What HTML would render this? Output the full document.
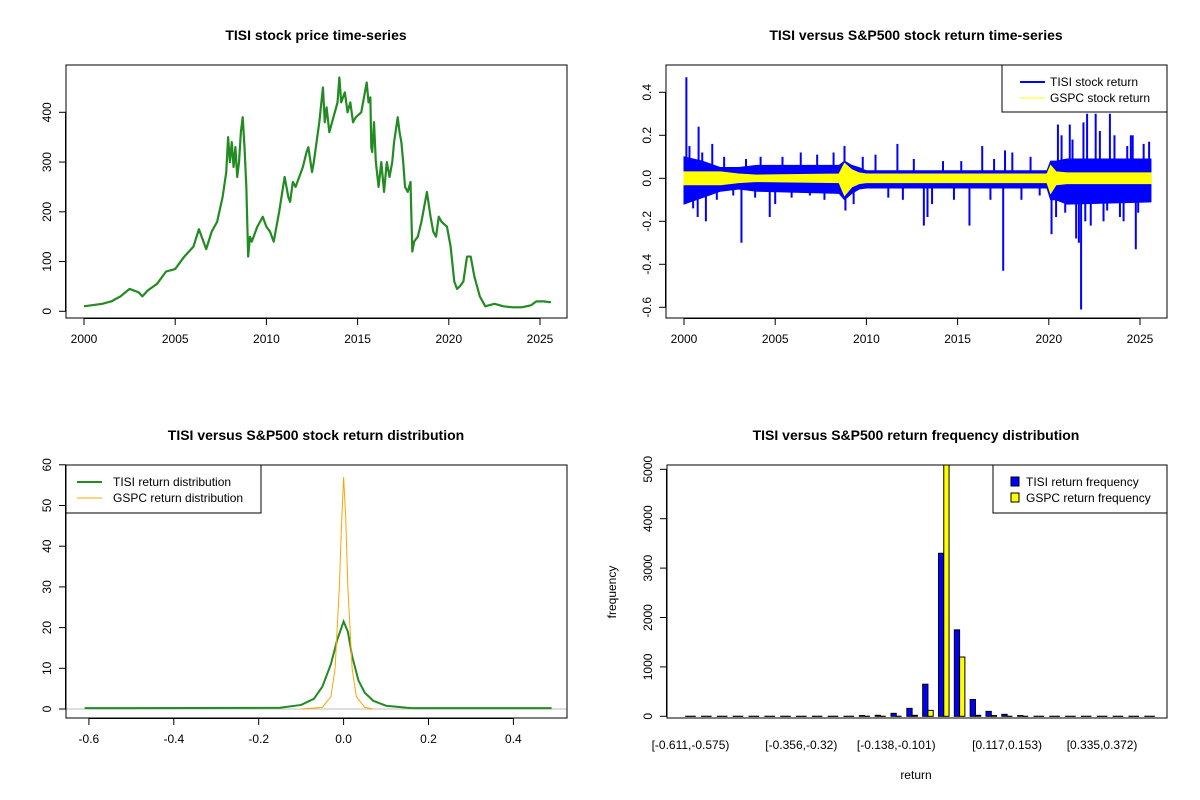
<!DOCTYPE html>
<html><head><meta charset="utf-8">
<style>
html,body{margin:0;padding:0;background:#fff;}
svg{display:block;font-family:"Liberation Sans",Arial,sans-serif;}
</style></head>
<body>
<svg id="c" width="1200" height="800" viewBox="0 0 1200 800" xmlns="http://www.w3.org/2000/svg"></svg>
<script>
// ---- Data ----
const priceYears = [2000,2001,2001.5,2002,2002.5,2003,2003.2,2003.5,2004,2004.5,2005,2005.5,2006,2006.3,2006.7,2007,2007.3,2007.6,2007.8,2007.9,2008.0,2008.1,2008.2,2008.3,2008.4,2008.5,2008.6,2008.7,2008.8,2008.9,2009.0,2009.1,2009.2,2009.5,2009.8,2010.0,2010.2,2010.4,2010.7,2011.0,2011.2,2011.3,2011.45,2011.6,2012,2012.2,2012.3,2012.5,2012.6,2012.9,2013.1,2013.2,2013.3,2013.45,2013.6,2013.75,2013.9,2014.0,2014.1,2014.3,2014.45,2014.6,2014.75,2014.9,2015.2,2015.5,2015.6,2015.7,2015.75,2015.8,2015.9,2016.0,2016.15,2016.3,2016.45,2016.6,2016.75,2016.9,2017.0,2017.2,2017.3,2017.4,2017.5,2017.6,2017.75,2017.9,2018.0,2018.1,2018.3,2018.5,2018.6,2018.8,2019.0,2019.15,2019.3,2019.45,2019.6,2019.9,2020.1,2020.3,2020.45,2020.6,2020.8,2021.0,2021.2,2021.4,2021.7,2022.0,2022.5,2023,2023.5,2024,2024.5,2024.8,2025.2,2025.6];
const priceValues = [10,15,20,30,45,38,30,42,55,80,85,110,130,165,125,160,180,230,280,350,300,340,290,330,270,300,360,390,330,250,110,150,140,170,190,170,160,140,200,270,230,220,260,250,290,320,330,280,300,380,450,380,410,360,380,400,420,470,420,440,400,420,380,390,400,460,420,430,330,320,380,300,250,300,240,300,270,300,340,390,360,340,300,250,240,260,120,140,150,180,200,240,190,160,150,190,180,170,130,60,45,50,60,110,110,70,30,10,15,10,8,8,12,20,20,18];
const priceTicks = [0,100,200,300,400];
const yearTicks = [2000,2005,2010,2015,2020,2025];

const bandYears = [2000,2001,2002,2003,2004,2008.5,2008.8,2009.2,2009.6,2010,2019.9,2020.1,2020.4,2021,2025.6];
const tisiUpper = [0.10,0.08,0.05,0.05,0.06,0.06,0.08,0.06,0.05,0.035,0.035,0.08,0.08,0.09,0.09];
const tisiLower = [-0.12,-0.09,-0.06,-0.05,-0.06,-0.07,-0.10,-0.07,-0.05,-0.045,-0.045,-0.10,-0.10,-0.12,-0.11];
const gspcUpper = [0.03,0.03,0.03,0.02,0.015,0.02,0.07,0.04,0.025,0.02,0.02,0.06,0.03,0.025,0.025];
const gspcLower = [-0.03,-0.03,-0.03,-0.02,-0.015,-0.02,-0.08,-0.04,-0.025,-0.02,-0.02,-0.07,-0.03,-0.025,-0.025];
const spikeYears = [2000.13,2000.8,2001.2,2000.75,2001.55,2003.15,2004.7,2008.8,2008.85,2011.7,2013.15,2013.35,2016.35,2015.65,2017.5,2017.6,2020.15,2020.5,2020.4,2021.15,2021.5,2021.77,2022.1,2021.65,2022.57,2023.35,2024.6,2024.77,2025.5,2024.1,
 2000.3,2000.5,2001.0,2001.8,2002.2,2002.7,2003.4,2003.9,2004.2,2005.0,2005.4,2005.9,2006.4,2006.9,2007.3,2007.7,2008.2,2009.3,2009.8,2010.5,2011.2,2012.0,2012.6,2013.6,2014.2,2014.8,2015.2,2016.8,2017.0,2018.0,2018.5,2019.0,2019.5,2020.7,2020.9,2021.3,2022.3,2022.8,2023.0,2023.6,2023.9,2024.3,2024.9,2025.2,2021.9,2022.0,2023.2,2024.5];
const spikeValues = [0.47,0.24,-0.2,-0.18,0.16,-0.3,-0.18,0.15,-0.15,0.16,-0.22,-0.18,0.15,-0.22,-0.43,0.13,-0.26,0.25,-0.18,0.25,-0.28,-0.61,0.3,-0.3,0.3,0.3,0.2,-0.33,0.17,-0.2,
 0.15,-0.14,0.12,-0.1,0.1,-0.08,0.09,-0.09,0.1,-0.12,0.1,-0.09,0.12,-0.08,0.11,-0.1,0.12,-0.12,0.1,0.11,-0.09,-0.1,0.09,-0.12,0.08,-0.1,0.08,-0.1,0.09,0.12,-0.1,0.1,-0.08,0.2,-0.16,0.18,-0.22,0.22,-0.2,0.2,-0.18,0.15,-0.16,0.16,0.26,-0.2,-0.15,0.2];
const retTicks = [-0.6,-0.4,-0.2,0.0,0.2,0.4];

const tisiDensX = [-0.61,-0.15,-0.1,-0.07,-0.05,-0.03,-0.015,0,0.01,0.02,0.035,0.05,0.07,0.1,0.15,0.165,0.49];
const tisiDensY = [0.2,0.3,1,2.5,5.5,11,17,21.5,19,13,7,4,2,0.8,0.3,0.2,0.2];
const gspcDensX = [-0.1,-0.05,-0.03,-0.02,-0.01,-0.005,0,0.005,0.01,0.02,0.03,0.05,0.07];
const gspcDensY = [0,0.4,3,10,30,45,57,47,30,10,3,0.4,0];
const densXTicks = [-0.6,-0.4,-0.2,0.0,0.2,0.4];
const densYTicks = [0,10,20,30,40,50,60];

const tisiFreq = [0,0,0,0,0,0,0,0,0,0,0,15,20,60,160,650,3300,1750,340,100,40,15,0,0,0,0,0,0,0,0];
const gspcFreq = [0,0,0,0,0,0,0,0,0,0,0,3,5,5,20,120,5300,1200,20,15,5,2,0,0,0,0,0,0,0,0];
const binLabels = {0:"[-0.611,-0.575)",7:"[-0.356,-0.32)",13:"[-0.138,-0.101)",20:"[0.117,0.153)",26:"[0.335,0.372)"};
const freqTicks = [0,1000,2000,3000,4000,5000];

// ---- helpers ----
const S = document.getElementById('c');
const NS = "http://www.w3.org/2000/svg";
function mk(tag, attrs, parent){ const e=document.createElementNS(NS,tag); for(const k in attrs) e.setAttribute(k,attrs[k]); (parent||S).appendChild(e); return e; }
function txt(x,y,s,opts,parent){ const t=mk('text',Object.assign({x:x,y:y,'font-size':12,fill:'#000','text-anchor':'middle'},opts||{}),parent); t.textContent=s; return t; }
function lin(d0,d1,r0,r1){ return v=>r0+(v-d0)*(r1-r0)/(d1-d0); }
function box(x0,y0,x1,y1,g){ mk('rect',{x:x0,y:y0,width:x1-x0,height:y1-y0,fill:'none',stroke:'#000','stroke-width':1},g); }
function xAxis(ticks,sx,yb,fmt,g){ const a=mk('g',{},g);  
  mk('line',{x1:sx(ticks[0]),x2:sx(ticks[ticks.length-1]),y1:yb+0.5,y2:yb+0.5,stroke:'#000'},a);
  ticks.forEach(t=>{ mk('line',{x1:sx(t),x2:sx(t),y1:yb,y2:yb+7,stroke:'#000'},a); txt(sx(t),yb+25,fmt(t),{},a); }); }
function yAxis(ticks,sy,xl,fmt,g){ const a=mk('g',{},g);  
  mk('line',{x1:xl-0.5,x2:xl-0.5,y1:sy(ticks[0]),y2:sy(ticks[ticks.length-1]),stroke:'#000'},a);
  ticks.forEach(t=>{ mk('line',{x1:xl-7,x2:xl,y1:sy(t),y2:sy(t),stroke:'#000'},a); txt(xl-15,sy(t),fmt(t),{transform:`rotate(-90 ${xl-15} ${sy(t)})`},a); }); }
function title(x,y,s,g){ const t=txt(x,y,s,{'font-size':14,'font-weight':'bold'},g);   }
const f1=t=>t.toFixed(1);

// ---- Panel 1: price ----
{
 const g=mk('g',{});  
 const sx=lin(2000,2025,84,540), sy=lin(0,400,311.3,112.3);
 title(316,40,"TISI stock price time-series",g);
 const p=priceYears.map((y,i)=>sx(y)+','+sy(priceValues[i])).join(' ');
 const pl=mk('polyline',{points:p,fill:'none',stroke:'#228B22','stroke-width':2.2,'stroke-linejoin':'round'},g);
  
 box(66,65,567,318,g);
 xAxis(yearTicks,sx,318,String,g); yAxis(priceTicks,sy,66,String,g);
}
// ---- Panel 2: returns ----
{
 const g=mk('g',{});  
 const sx=lin(2000,2025,684,1140), sy=lin(0,0.4,178.3,92.3);
 title(916,40,"TISI versus S&P500 stock return time-series",g);
 function band(up,lo,col,name){ const pts=bandYears.map((y,i)=>sx(y)+','+sy(up[i])).concat(bandYears.slice().reverse().map((y,j)=>{const i=bandYears.length-1-j;return sx(y)+','+sy(lo[i]);})).join(' ');
   const b=mk('polygon',{points:pts,fill:col,stroke:col,'stroke-width':1},g);   }
 band(tisiUpper,tisiLower,'#0000FF','tisi-return-band');
 spikeYears.forEach((y,i)=>{ const l=mk('line',{x1:sx(y),x2:sx(y),y1:sy(0),y2:sy(spikeValues[i]),stroke:'#0000FF','stroke-width':2},g);
     });
 band(gspcUpper,gspcLower,'#FFFF00','gspc-return-band');
 box(666,65,1167,318,g);
 xAxis(yearTicks,sx,318,String,g); yAxis(retTicks,sy,666,f1,g);
 const lg=mk('g',{},g);  
 mk('rect',{x:1002,y:65,width:165,height:47,fill:'#fff',stroke:'#000'},lg);
 mk('line',{x1:1020,x2:1045,y1:82,y2:82,stroke:'#0000FF','stroke-width':2},lg);
 mk('line',{x1:1020,x2:1045,y1:98,y2:98,stroke:'#FFFF00','stroke-width':1},lg);
 txt(1050,86,"TISI stock return",{'text-anchor':'start'},lg);
 txt(1050,102,"GSPC stock return",{'text-anchor':'start'},lg);
}
// ---- Panel 3: density ----
{
 const g=mk('g',{});  
 const sx=lin(0,0.2,343.6,428.5), sy=lin(0,10,709,668.3);
 title(316,440,"TISI versus S&P500 stock return distribution",g);
 mk('line',{x1:66,x2:567,y1:sy(0),y2:sy(0),stroke:'#BEBEBE'},g);
 const gp=mk('polyline',{points:tisiDensX.map((x,i)=>sx(x)+','+sy(tisiDensY[i])).join(' '),fill:'none',stroke:'#228B22','stroke-width':2},g);
  
 const op=mk('polyline',{points:gspcDensX.map((x,i)=>sx(x)+','+sy(gspcDensY[i])).join(' '),fill:'none',stroke:'#FFA500','stroke-width':1},g);
  
 box(66,465,567,718,g);
 xAxis(densXTicks,sx,718,f1,g); yAxis(densYTicks,sy,66,String,g);
 const lg=mk('g',{},g);  
 mk('rect',{x:66,y:465,width:195,height:48,fill:'#fff',stroke:'#000'},lg);
 mk('line',{x1:77,x2:102,y1:482,y2:482,stroke:'#228B22','stroke-width':2},lg);
 mk('line',{x1:77,x2:102,y1:498,y2:498,stroke:'#FFA500','stroke-width':1},lg);
 txt(113,486,"TISI return distribution",{'text-anchor':'start'},lg);
 txt(113,502,"GSPC return distribution",{'text-anchor':'start'},lg);
}
// ---- Panel 4: histogram ----
{
 const g=mk('g',{});  
 const sy=lin(0,1000,716.3,666.9);
 const c0=690.5, gw=15.83, bw=gw/3;
 title(916,440,"TISI versus S&P500 return frequency distribution",g);
 const cp=mk('clipPath',{id:'hc'},g); mk('rect',{x:667,y:465,width:500,height:253},cp);
 const bars=mk('g',{'clip-path':'url(#hc)'},g);
 function bar(x,v,col,name){
   if(sy(0)-sy(v)<0.5){ const l=mk('line',{x1:x,x2:x+bw,y1:sy(0),y2:sy(0),stroke:'#000','stroke-width':1.2},bars);
       return; }
   const b=mk('rect',{x:x,y:sy(v),width:bw,height:sy(0)-sy(v),fill:col,stroke:'#000','stroke-width':1},bars);
    
 }
 tisiFreq.forEach((v,i)=>{ const c=c0+i*gw;
   bar(c-bw,v,'#0000FF','bar-tisi');
   bar(c,gspcFreq[i],'#FFFF00','bar-gspc');
   if(binLabels[i]!==undefined) txt(c,749,binLabels[i],{},g);
 });
 box(667,465,1167,718,g);
 yAxis(freqTicks,sy,667,String,g);
 txt(916,779,"return",{},g);
 const yt=txt(616,592,"frequency",{transform:'rotate(-90 616 592)'},g); 
 const lg=mk('g',{},g);  
 mk('rect',{x:993,y:465,width:174,height:48,fill:'#fff',stroke:'#000'},lg);
 mk('rect',{x:1011,y:477,width:8,height:9,fill:'#0000FF',stroke:'#000'},lg);
 mk('rect',{x:1011,y:493,width:8,height:9,fill:'#FFFF00',stroke:'#000'},lg);
 txt(1026,486,"TISI return frequency",{'text-anchor':'start'},lg);
 txt(1026,502,"GSPC return frequency",{'text-anchor':'start'},lg);
}
</script>
</body></html>
